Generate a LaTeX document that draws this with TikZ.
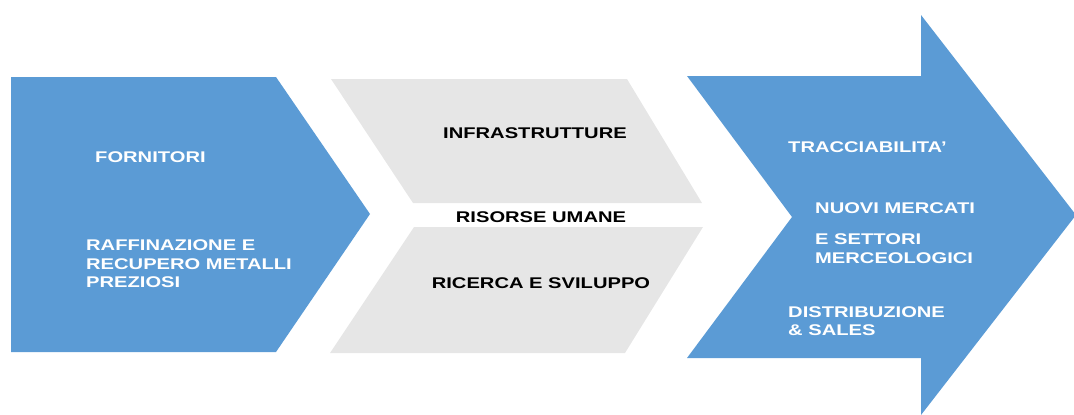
\documentclass[tikz,border=0pt]{standalone}
\usepackage{fontspec}
\setmainfont{Liberation Sans}[FakeStretch=1.3]
\definecolor{azzurro}{HTML}{5B9BD5}
\definecolor{grigio}{HTML}{E6E6E6}
\tikzset{
    bluefill/.style={fill=azzurro},
    greyfill/.style={fill=grigio},
    lbl/.style={inner sep=0pt, align=left, font=\fontsize{15.5}{18.5}\selectfont\bfseries},
    whitelbl/.style={lbl, text=white, anchor=west},
    darklbl/.style={lbl, text=black}
}
\begin{document}
\begin{tikzpicture}[x=1pt, y=-1pt]
    \useasboundingbox (0,0) rectangle (1074,415);

    % Forme
    \fill[bluefill] (11,77) -- (276,77) -- (370,214) -- (276,352) -- (11,352) -- cycle;
    \fill[greyfill] (331,79) -- (627,79) -- (702,203) -- (413,203) -- cycle;
    \fill[greyfill] (414,227) -- (703,227) -- (625,353) -- (330,353) -- cycle;
    \fill[bluefill] (687,76) -- (921,76) -- (921,15) -- (1076,215) -- (921,415)
        -- (921,358) -- (687,358) -- (792,217) -- cycle;

    % Testi a sinistra
    \node[whitelbl] (fornitori) at (95,157) {FORNITORI};
    \node[whitelbl] (raffinazione) at (86,264) {RAFFINAZIONE E\\RECUPERO METALLI\\PREZIOSI};

    % Testi al centro
    \node[darklbl] (infra) at (535,133) {INFRASTRUTTURE};
    \node[darklbl] (risorse) at (541,217) {RISORSE UMANE};
    \node[darklbl] (ricerca) at (541,283) {RICERCA E SVILUPPO};

    % Testi a destra
    \node[whitelbl] (tracc) at (788,147) {TRACCIABILITA’};
    \node[whitelbl] (mercati) at (815,208) {NUOVI MERCATI};
    \node[whitelbl, font=\fontsize{15.5}{19}\selectfont\bfseries] (settori) at (815,248.5) {E SETTORI\\MERCEOLOGICI};
    \node[whitelbl] (distrib) at (788,321) {DISTRIBUZIONE\\\& SALES};
\end{tikzpicture}
\end{document}
